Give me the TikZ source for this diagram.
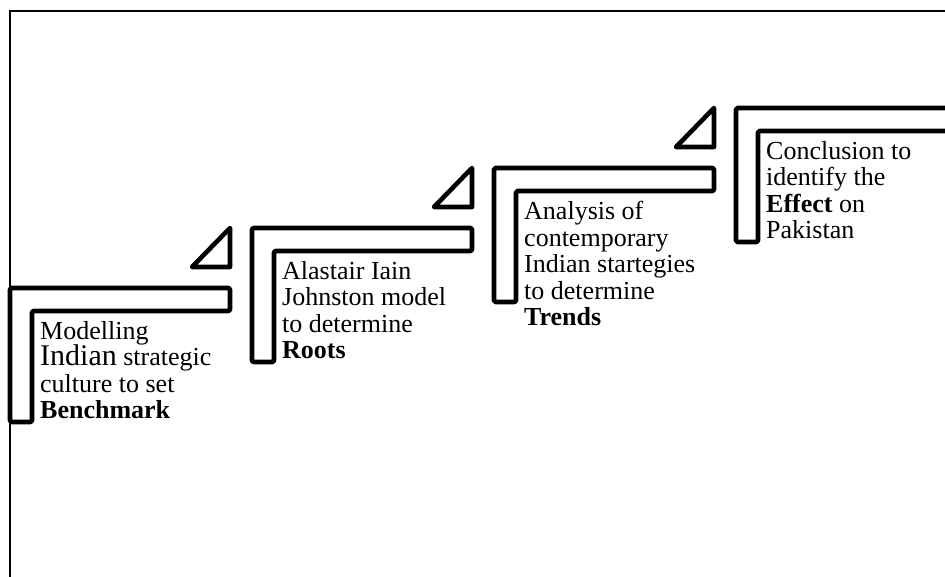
\documentclass[tikz,border=0pt]{standalone}
\usepackage{fontspec}
\setmainfont{Liberation Serif}

\begin{document}
\begin{tikzpicture}[x=1pt,y=-1pt,
        stair/.style={line width=4.6pt,line join=round,rounded corners=1.5pt},
        notch/.style={line width=4.6pt,line join=round},
        steptext/.style={anchor=north west,inner sep=0pt,align=left,
            font=\fontsize{26}{26.5}\selectfont}]
        \clip (0,0) rectangle (945,577);
        \draw[line width=1.6pt] (10,577) -- (10,11) -- (945,11);
        \foreach \i in {0,...,3}{
            \pgfmathsetmacro{\xa}{10+242*\i}
            \pgfmathsetmacro{\ya}{288-60*\i}
            \draw[stair] (\xa,\ya) -- ++(220,0) -- ++(0,23) -- ++(-198,0)
                -- ++(0,111) -- ++(-22,0) -- cycle;
        }
        \foreach \i in {1,2,3}{
            \pgfmathsetmacro{\xa}{10+242*\i-22}
            \pgfmathsetmacro{\ya}{288-60*\i}
            \draw[notch] (\xa,\ya) -- ++(0,39) -- ++(-38,0) -- cycle;
        }
        \node[steptext] (bench) at (40,321)
            {Modelling\\{\fontsize{30}{26.5}\selectfont Indian} strategic\\culture to set\\\textbf{Benchmark}};
        \node[steptext] (roots) at (282,261)
            {Alastair Iain\\Johnston model\\to determine\\\textbf{Roots}};
        \node[steptext] (trends) at (524,201)
            {Analysis of\\contemporary\\Indian startegies\\to determine\\\textbf{Trends}};
        \node[steptext] (effect) at (766,141)
            {Conclusion to\\identify the\\\textbf{Effect} on\\Pakistan};
    \end{tikzpicture}
\end{document}
